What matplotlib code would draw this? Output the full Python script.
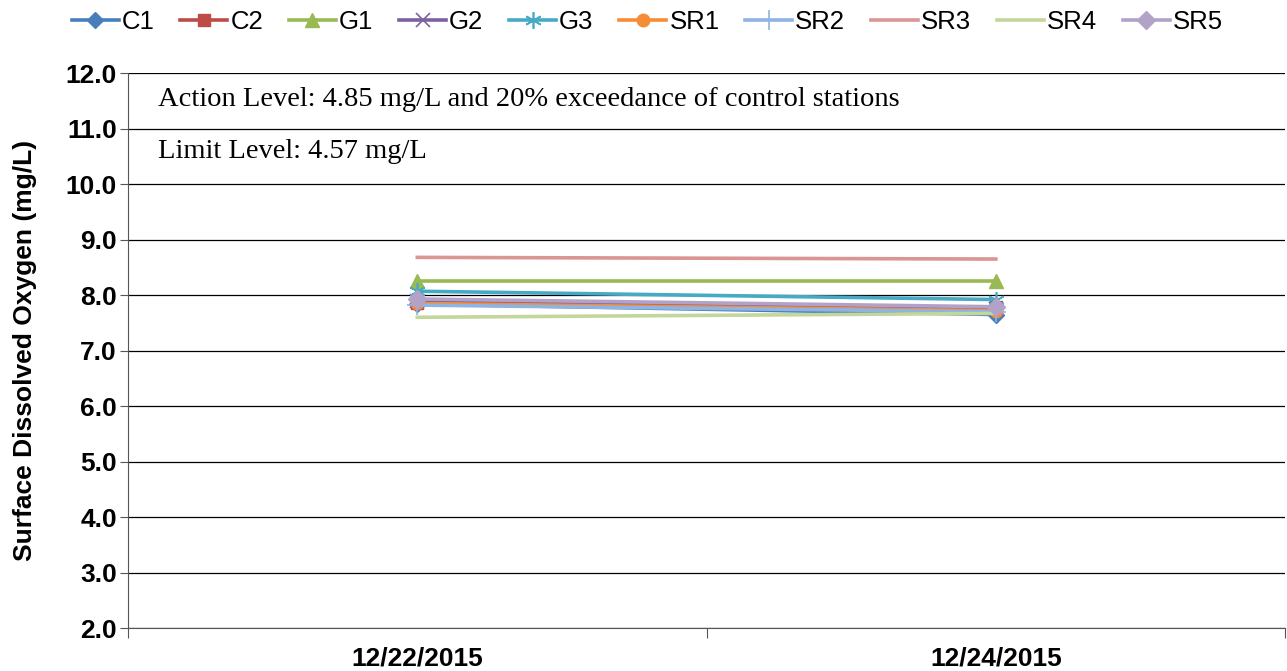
import matplotlib
matplotlib.use("Agg")
import matplotlib.pyplot as plt
import numpy as np

dates = ["12/22/2015", "12/24/2015"]
series = ["C1", "C2", "G1", "G2", "G3", "SR1", "SR2", "SR3", "SR4", "SR5"]
C1 = [7.84, 7.65]
C2 = [7.86, 7.78]
G1 = [8.26, 8.26]
G2 = [7.90, 7.75]
G3 = [8.07, 7.92]
SR1 = [7.85, 7.72]
SR2 = [7.82, 7.70]
SR3 = [8.68, 8.65]
SR4 = [7.60, 7.67]
SR5 = [7.93, 7.79]
values = [C1, C2, G1, G2, G3, SR1, SR2, SR3, SR4, SR5]

colors = ["#4A7EBB", "#BE4B48", "#98B954", "#7D60A0", "#46AAC5",
          "#F68C36", "#8EB4E3", "#D99694", "#C3D69B", "#B3A2C7"]
markers = ["D", "s", "^", "x", (6, 2, 0), "o", "+", None, None, "D"]
msizes = [8, 9, 10, 10, 12, 9, 14, 0, 0, 9]

plt.rcParams['font.family'] = ['Liberation Sans', 'DejaVu Sans']
fig = plt.figure(figsize=(12.87, 6.71), dpi=100)
ax = fig.add_axes([0.0995, 0.064, 0.899, 0.827])

x = np.arange(len(dates)) + 0.5
handles = []
for name, vals, c, m, ms in zip(series, values, colors, markers, msizes):
    kw = {}
    if m is not None:
        kw = dict(marker=m, markersize=ms, markerfacecolor=c, markeredgecolor=c,
                  markeredgewidth=1.2 if m in ("x", "+", (6, 2, 0)) else 1)
    h, = ax.plot(x, vals, color=c, linewidth=2.6, label=name, **kw)
    handles.append(h)

ax.set_xlim(0, 2)
ax.set_ylim(2.0, 12.0)
yt = np.arange(2.0, 12.01, 1.0)
ax.set_yticks(yt)
ax.set_yticklabels([f"{v:.1f}" for v in yt], fontsize=19, fontweight='bold')
ax.yaxis.grid(True, color='black', linewidth=0.9)
ax.set_axisbelow(True)
ax.set_xticks([0, 1, 2])
ax.set_xticklabels([])
ax.set_xticks(x, minor=True)
ax.set_xticklabels(dates, minor=True, fontsize=19, fontweight='bold')
ax.tick_params(axis='x', which='minor', length=0, pad=13)
ax.tick_params(axis='x', which='major', length=7, direction='out', color='#555555')
ax.tick_params(axis='y', length=6, direction='out', color='#555555', pad=2)
for s in ["top", "right"]:
    ax.spines[s].set_visible(False)
ax.spines["left"].set_color('#555555')
ax.spines["bottom"].set_color('#555555')

ax.set_ylabel("Surface Dissolved Oxygen (mg/L)", fontsize=19, fontweight='bold', labelpad=21)

ax.text(0.026, 0.953, "Action Level: 4.85 mg/L and 20% exceedance of control stations",
        transform=ax.transAxes, fontsize=20.5, family='Liberation Serif', va='center', ha='left')
ax.text(0.026, 0.858, "Limit Level: 4.57 mg/L",
        transform=ax.transAxes, fontsize=20.5, family='Liberation Serif', va='center', ha='left')

fig.legend(handles=handles, loc='upper center', bbox_to_anchor=(0.503, 1.008), ncol=10,
           frameon=False, fontsize=18.5, handlelength=1.83, handletextpad=0.12,
           columnspacing=1.0, borderaxespad=0.2)

fig.savefig("out.png", dpi=100)
